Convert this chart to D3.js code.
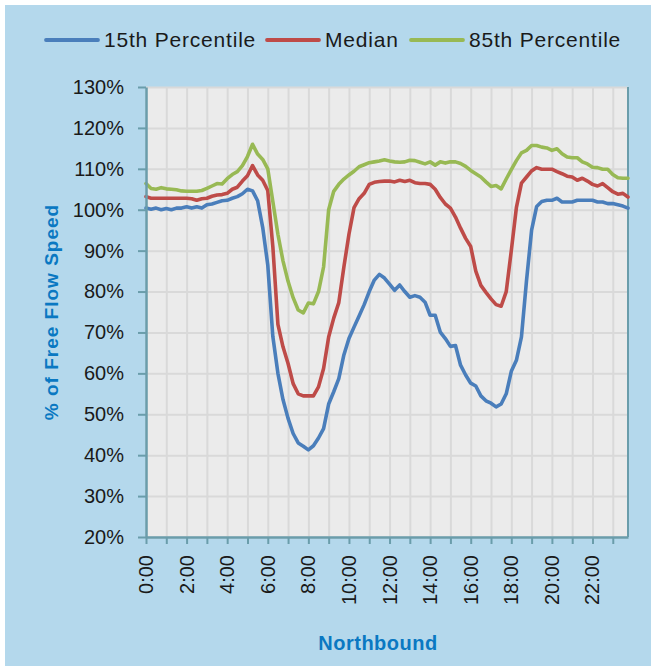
<!DOCTYPE html>
<html>
<head>
<meta charset="utf-8">
<script src="https://cdn.jsdelivr.net/npm/d3@7"></script>
<style>
  body { margin: 0; background: #fff; }
  svg { display: block; }
  .axis path, .axis line { stroke: #6a9dab; }
  .grid line { stroke: #d9d9d9; stroke-width: 2; }
  .grid path { display: none; }
  text { font-family: "Liberation Sans", Arial, sans-serif; fill: #1a1a1a; }
</style>
</head>
<body>
<div id="chart"></div>
<script>
// Time of day categories (15 min steps)
var times = [
  "0:00","0:15","0:30","0:45","1:00","1:15","1:30","1:45","2:00","2:15","2:30","2:45",
  "3:00","3:15","3:30","3:45","4:00","4:15","4:30","4:45","5:00","5:15","5:30","5:45",
  "6:00","6:15","6:30","6:45","7:00","7:15","7:30","7:45","8:00","8:15","8:30","8:45",
  "9:00","9:15","9:30","9:45","10:00","10:15","10:30","10:45","11:00","11:15","11:30","11:45",
  "12:00","12:15","12:30","12:45","13:00","13:15","13:30","13:45","14:00","14:15","14:30","14:45",
  "15:00","15:15","15:30","15:45","16:00","16:15","16:30","16:45","17:00","17:15","17:30","17:45",
  "18:00","18:15","18:30","18:45","19:00","19:15","19:30","19:45","20:00","20:15","20:30","20:45",
  "21:00","21:15","21:30","21:45","22:00","22:15","22:30","22:45","23:00","23:15","23:30","23:45"
];
var tickLabels = ["0:00","2:00","4:00","6:00","8:00","10:00","12:00","14:00","16:00","18:00","20:00","22:00"];
var yTicks = [20, 30, 40, 50, 60, 70, 80, 90, 100, 110, 120, 130];

// % of free flow speed
var p15 = [
  100.4, 100.1, 100.4, 100.0, 100.3, 100.0, 100.4, 100.4, 100.7, 100.4, 100.7, 100.4,
  101.2, 101.4, 101.8, 102.2, 102.3, 102.8, 103.2, 103.9, 105.0, 104.6, 102.2, 95.7,
  86.5, 69.0, 60.0, 53.6, 49.0, 45.3, 43.0, 42.2, 41.3, 42.3, 44.2, 46.5,
  52.5, 55.5, 58.7, 64.5, 68.5, 71.3, 74.0, 76.8, 80.0, 82.8, 84.2, 83.3,
  81.8, 80.3, 81.6, 80.0, 78.6, 79.0, 78.6, 77.4, 74.2, 74.2, 70.1, 68.5,
  66.6, 66.8, 62.0, 59.6, 57.6, 56.9, 54.5, 53.3, 52.7, 51.8, 52.5, 55.0,
  60.5, 63.2, 68.9, 82.7, 95.0, 100.8, 102.0, 102.3, 102.3, 102.8, 101.9, 101.9,
  101.9, 102.3, 102.3, 102.3, 102.3, 101.9, 101.9, 101.5, 101.5, 101.2, 100.9, 100.4
];
var median = [
  103.2, 102.8, 102.8, 102.8, 102.8, 102.8, 102.8, 102.8, 102.8, 102.7, 102.3, 102.7,
  102.8, 103.3, 103.6, 103.7, 104.0, 105.0, 105.5, 107.0, 108.3, 110.8, 108.5, 107.2,
  104.7, 91.0, 72.0, 66.5, 62.4, 57.5, 55.0, 54.5, 54.5, 54.5, 56.7, 61.2,
  68.9, 73.5, 77.3, 86.0, 94.0, 100.5, 102.7, 104.0, 106.2, 106.7, 106.9, 107.0,
  107.0, 106.8, 107.2, 106.9, 107.2, 106.6, 106.4, 106.4, 106.2, 105.0, 103.0, 101.4,
  100.4, 98.2, 95.5, 93.0, 91.0, 85.0, 81.5, 79.8, 78.2, 76.8, 76.4, 80.0,
  90.0, 100.5, 106.5, 108.0, 109.5, 110.3, 109.9, 109.9, 109.9, 109.3, 108.8, 108.2,
  108.0, 107.2, 107.7, 107.0, 106.2, 105.8, 106.4, 105.4, 104.4, 103.8, 104.0, 103.1
];
var p85 = [
  106.4, 105.2, 105.0, 105.4, 105.1, 105.0, 104.9, 104.6, 104.5, 104.5, 104.5, 104.7,
  105.2, 105.8, 106.4, 106.3, 107.6, 108.6, 109.3, 110.8, 113.0, 116.0, 113.6, 112.3,
  110.0, 102.0, 94.0, 87.5, 82.5, 78.5, 75.5, 74.8, 77.2, 77.0, 80.0, 86.0,
  100.0, 104.5, 106.2, 107.5, 108.5, 109.4, 110.5, 111.0, 111.5, 111.7, 111.9, 112.2,
  111.9, 111.7, 111.6, 111.7, 112.1, 112.0, 111.6, 111.2, 111.7, 110.9, 111.7, 111.4,
  111.7, 111.7, 111.3, 110.6, 109.6, 108.8, 108.0, 106.8, 105.7, 105.9, 105.1, 107.5,
  109.8, 112.0, 113.9, 114.5, 115.7, 115.7, 115.3, 115.1, 114.5, 114.9, 113.7, 112.9,
  112.7, 112.7, 111.7, 111.2, 110.4, 110.3, 109.9, 109.9, 108.6, 107.8, 107.7, 107.7
];

var series = [
  {name: "15th Percentile", values: p15, color: "#4a7ebb"},
  {name: "Median", values: median, color: "#be4b48"},
  {name: "85th Percentile", values: p85, color: "#98b954"}
];

const W = 651, H = 666,
    margin = {top: 87, right: 23, bottom: 129, left: 146},
    width = W - margin.left - margin.right,
    height = H - margin.top - margin.bottom;

var svg = d3.select("#chart").append("svg")
    .attr("width", W)
    .attr("height", H);

// chart background
svg.append("rect")
    .attr("x", 5).attr("y", 5)
    .attr("width", W - 5).attr("height", H - 5)
    .attr("fill", "#b4d8ec");

var g = svg.append("g")
    .attr("transform", "translate(" + margin.left + "," + margin.top + ")");

var x = d3.scalePoint().domain(times).range([0, width]);
var y = d3.scaleLinear().domain([20, 130]).range([height, 0]);

// plot area
g.append("rect")
    .attr("width", width)
    .attr("height", height)
    .attr("fill", "#ebebeb");

// grid lines
g.append("g")
    .attr("class", "grid")
    .call(d3.axisLeft(y).tickValues(yTicks).tickSize(-width).tickFormat(""));
g.append("g")
    .attr("class", "grid")
    .attr("transform", "translate(0," + height + ")")
    .call(d3.axisBottom(x)
        .tickValues(times.filter(function(d, i) { return i % 4 === 0; }))
        .tickSize(height).tickFormat(""))
    .selectAll("line").attr("y2", -height);

// right border
g.append("line")
    .attr("x1", width).attr("x2", width)
    .attr("y1", 0).attr("y2", height)
    .attr("stroke", "#6a9dab").attr("stroke-width", 2);

// lines
var line = d3.line()
    .x(function(d, i) { return x(times[i]); })
    .y(function(d) { return y(d); });

series.forEach(function(s) {
    g.append("path")
        .datum(s.values)
        .attr("fill", "none")
        .attr("stroke", s.color)
        .attr("stroke-width", 3.6)
        .attr("stroke-linejoin", "round")
        .attr("stroke-linecap", "round")
        .attr("d", line);
});

// Y axis
var yAxis = g.append("g")
    .attr("class", "axis")
    .call(d3.axisLeft(y)
        .tickValues(yTicks)
        .tickSizeInner(8).tickSizeOuter(0)
        .tickPadding(14)
        .tickFormat(function(d) { return d + "%"; }));
yAxis.select(".domain").attr("stroke-width", 2.5);
yAxis.selectAll("line").attr("stroke-width", 2);
yAxis.selectAll("text").style("font-size", "20px").attr("fill", "#1a1a1a");

// X axis ticks
var xAxis = g.append("g")
    .attr("class", "axis")
    .attr("transform", "translate(0," + height + ")")
    .call(d3.axisBottom(x)
        .tickValues(times.filter(function(d, i) { return i % 4 === 0; }))
        .tickSizeInner(7).tickSizeOuter(0)
        .tickFormat(""));
xAxis.select(".domain").attr("stroke-width", 2.5);
xAxis.selectAll("line").attr("stroke-width", 2);

// X labels, rotated
g.append("g")
    .selectAll("text")
    .data(tickLabels)
    .enter().append("text")
        .attr("transform", function(d) {
            return "translate(" + (x(d) + 7) + "," + (height + 18) + ") rotate(-90)";
        })
        .attr("text-anchor", "end")
        .style("font-size", "20px")
        .text(function(d) { return d; });

// axis titles
svg.append("text")
    .attr("transform", "translate(58," + (margin.top + height / 2) + ") rotate(-90)")
    .attr("text-anchor", "middle")
    .style("font-size", "19px")
    .style("font-weight", "bold")
    .style("letter-spacing", "1px")
    .style("fill", "#0a78c2")
    .text("% of Free Flow Speed");

svg.append("text")
    .attr("x", 378)
    .attr("y", 650)
    .attr("text-anchor", "middle")
    .style("font-size", "20px")
    .style("font-weight", "bold")
    .style("letter-spacing", "0.5px")
    .style("fill", "#0a78c2")
    .text("Northbound");

// legend
var legendX = [46, 267, 411];
var legend = svg.selectAll(".legend")
    .data(series)
    .enter().append("g")
        .attr("class", "legend")
        .attr("transform", function(d, i) { return "translate(" + legendX[i] + ",40)"; });
legend.append("line")
    .attr("x1", 0).attr("x2", 52)
    .attr("stroke", function(d) { return d.color; })
    .attr("stroke-width", 3.8)
    .attr("stroke-linecap", "round");
legend.append("text")
    .attr("x", 58)
    .attr("dy", "0.35em")
    .style("font-size", "21px")
    .style("letter-spacing", "0.8px")
    .text(function(d) { return d.name; });
</script>
</body>
</html>
